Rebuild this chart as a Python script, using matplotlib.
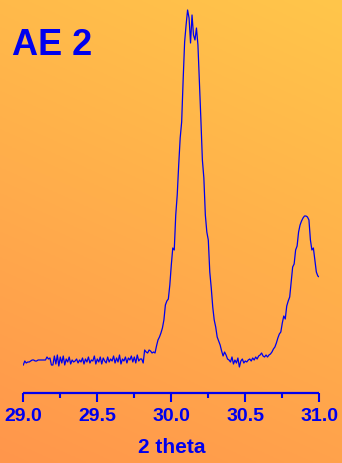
import numpy as np
import matplotlib
matplotlib.use("Agg")
import matplotlib.pyplot as plt

# scan grid: 29.00 .. 31.00 deg, step 0.01
scan_start = 29.0
scan_step = 0.01

# intensity (arb. units), one row per 0.1 deg
intensity = [
    35, 39, 37, 38, 38, 39, 40, 40, 39, 39,
    40, 40, 40, 40, 40, 40, 43, 41, 42, 35,
    35, 44, 36, 45, 34, 43, 37, 44, 35, 41,
    38, 43, 36, 40, 38, 39, 41, 37, 40, 38,
    42, 36, 41, 38, 43, 37, 40, 39, 44, 36,
    41, 38, 43, 36, 42, 39, 37, 43, 38, 41,
    39, 44, 37, 42, 38, 45, 36, 41, 39, 43,
    37, 42, 40, 44, 38, 43, 37, 45, 39, 41,
    41, 37, 50, 48, 47, 50, 49, 47, 48, 47,
    54, 60, 63, 67, 72, 80, 95, 99, 101, 115,
    135, 152, 150, 185, 205, 235, 262, 278, 320, 358,
    375, 390, 382, 357, 385, 365, 360, 372, 355, 318,
    280, 240, 222, 185, 168, 160, 128, 112, 93, 80,
    73, 63, 59, 55, 49, 44, 48, 45, 41, 40,
    38, 43, 36, 40, 37, 42, 33, 39, 41, 37,
    39, 38, 40, 41, 39, 42, 40, 43, 41, 44,
    45, 47, 44, 43, 45, 43, 45, 46, 48, 51,
    53, 57, 62, 66, 68, 77, 84, 81, 94, 99,
    103, 118, 133, 136, 150, 154, 168, 175, 179, 182,
    184, 184, 183, 180, 160, 150, 152, 140, 128, 124,
    123,
]
two_theta = np.round(scan_start + scan_step * np.arange(len(intensity)), 2)

xticks_major = [29.0, 29.5, 30.0, 30.5, 31.0]
xtick_labels = ["29.0", "29.5", "30.0", "30.5", "31.0"]
xticks_minor = [29.25, 29.75, 30.25, 30.75]

blue = "#0000ee"
W, H = 342, 463
fig = plt.figure(figsize=(W / 100, H / 100), dpi=100)

# orange gradient background
bg = fig.add_axes([0, 0, 1, 1])
gy, gx = np.mgrid[0:1:200j, 0:1:200j]
top_right = np.array([255, 198, 74]) / 255
bot_left = np.array([255, 150, 76]) / 255
t = np.clip(0.75 * gy + 0.25 * gx, 0, 1)[..., None]
grad = bot_left + (top_right - bot_left) * t
bg.imshow(grad, origin="lower", aspect="auto", extent=[0, 1, 0, 1])
bg.axis("off")

ax = fig.add_axes([23.3 / W, (H - 393) / H, 296 / W, 388 / H])
ax.patch.set_alpha(0)
ax.plot(two_theta, intensity, color=blue, lw=0.9)
ax.set_xlim(29.0, 31.0)
ax.set_ylim(7, 395)

for s in ["left", "right", "top"]:
    ax.spines[s].set_visible(False)
ax.spines["bottom"].set_color(blue)
ax.spines["bottom"].set_linewidth(1.6)
ax.spines["bottom"].set_capstyle("butt")
ax.set_yticks([])
ax.set_xticks(xticks_major)
ax.set_xticklabels(xtick_labels, fontfamily="Liberation Sans",
                   fontweight="bold", fontsize=14, color=blue)
ax.set_xticks(xticks_minor, minor=True)
ax.tick_params(axis="x", which="major", direction="out", length=6.5,
               width=1.5, color=blue, pad=4)
ax.tick_params(axis="x", which="minor", direction="out", length=3.6,
               width=1.5, color=blue)
ax.set_xlabel("2 theta", fontfamily="Liberation Sans", fontweight="bold",
              fontsize=15, color=blue, labelpad=10)

fig.text(12 / W, (H - 55) / H, "AE 2", fontfamily="Liberation Sans",
         fontweight="bold", fontsize=26, color=blue, va="baseline")

fig.savefig("out.png", dpi=100)
